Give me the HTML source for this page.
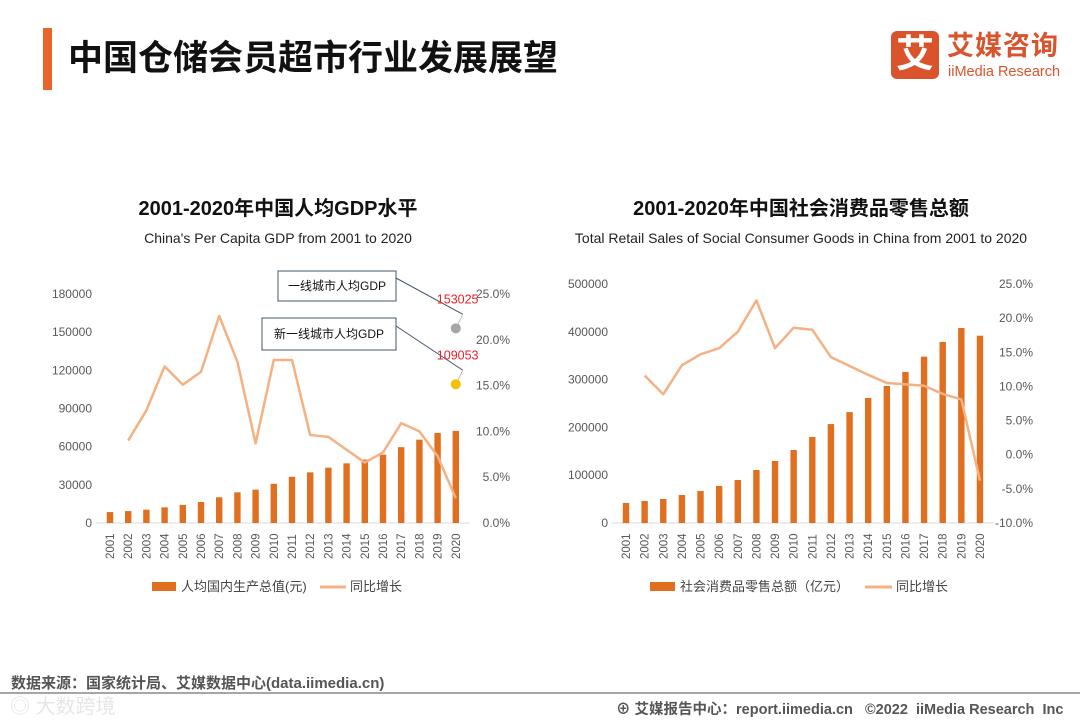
<!DOCTYPE html>
<html><head><meta charset="utf-8">
<style>
body{margin:0;width:1080px;height:720px;background:#fff;overflow:hidden;position:relative;font-family:"Liberation Sans","Noto Sans CJK SC",sans-serif}
.abs{position:absolute}
</style></head>
<body>
<div class="abs" style="left:43px;top:28px;width:9px;height:62px;background:#e8642b"></div>
<div class="abs" style="left:68px;top:30px;font-size:35px;font-weight:bold;color:#111;font-family:'Liberation Sans','Noto Sans CJK SC',sans-serif">中国仓储会员超市行业发展展望</div>
<div class="abs" style="left:891px;top:31px;width:48px;height:48px;background:#d9542c;border-radius:6px;color:#fff;font-size:38px;font-weight:bold;text-align:center;line-height:48px">艾</div>
<div class="abs" style="left:947px;top:30px;color:#d9542c;font-size:27px;font-weight:bold;line-height:32px;letter-spacing:1px">艾媒咨询</div>
<div class="abs" style="left:948px;top:63px;color:#d9542c;font-size:14.5px;line-height:18px">iiMedia Research</div>

<svg class="abs" style="left:0;top:0" width="1080" height="720" id="svg">
<g font-family="Liberation Sans, Noto Sans CJK SC, sans-serif">
<text x="278" y="215" text-anchor="middle" font-size="20" font-weight="bold" fill="#111">2001-2020年中国人均GDP水平</text>
<text x="278" y="243" text-anchor="middle" font-size="14" fill="#222">China's Per Capita GDP from 2001 to 2020</text>
<text x="801" y="215" text-anchor="middle" font-size="20" font-weight="bold" fill="#111">2001-2020年中国社会消费品零售总额</text>
<text x="801" y="243" text-anchor="middle" font-size="14" fill="#222">Total Retail Sales of Social Consumer Goods in China from 2001 to 2020</text>
</g>
<g id="left"></g><g id="right"></g>
<line x1="0" y1="693" x2="1080" y2="693" stroke="#888" stroke-width="1.5"/>
</svg>

<div class="abs" style="left:11px;top:672px;font-size:15px;font-weight:bold;color:#555">数据来源：国家统计局、艾媒数据中心(data.iimedia.cn)</div>
<div class="abs" style="left:10px;top:690px;font-size:20px;color:#e6e6e6">◎ 大数跨境</div>
<div class="abs" style="left:616px;top:698px;font-size:14.5px;font-weight:bold;color:#555">⊕ 艾媒报告中心：report.iimedia.cn &nbsp;&nbsp;©2022 &nbsp;iiMedia Research &nbsp;Inc</div>

<script>
const years=["2001","2002","2003","2004","2005","2006","2007","2008","2009","2010","2011","2012","2013","2014","2015","2016","2017","2018","2019","2020"];
const gdpValues=[8600,9400,10500,12300,14200,16500,20200,24100,26200,30800,36300,39800,43500,46900,49900,53700,59600,65500,70800,72400];
const gdpGrowth=[null,9.0,12.3,17.1,15.1,16.5,22.6,17.6,8.7,17.8,17.8,9.6,9.4,8.0,6.6,7.7,10.9,10.0,7.3,2.7];
const gdpLeftTicks=[0,30000,60000,90000,120000,150000,180000];
const gdpRightTicks=[0,5,10,15,20,25];
const cityLabels=["一线城市人均GDP","新一线城市人均GDP"];
const cityValues=[153025,109053];
const retailValues=[42000,46000,50200,58600,66900,77400,90000,110900,129700,152700,180000,207000,232000,261500,286600,316000,348000,378700,408000,391800];
const retailGrowth=[null,11.6,8.85,13.1,14.7,15.6,18.0,22.6,15.6,18.6,18.3,14.3,13.0,11.7,10.5,10.3,10.1,8.9,8.1,-3.8];
const retailLeftTicks=[0,100000,200000,300000,400000,500000];
const retailRightTicks=[-10,-5,0,5,10,15,20,25];

const NS="http://www.w3.org/2000/svg";
function mk(parent,tag,attrs,text){const e=document.createElementNS(NS,tag);for(const k in attrs)e.setAttribute(k,attrs[k]);if(text!==undefined)e.textContent=text;parent.appendChild(e);return e;}
const FONT="Liberation Sans, Noto Sans CJK SC, sans-serif";

function drawChart(g,o){
  const x=i=>o.x0+i*o.step;
  const yL=v=>o.yb-(v-o.lmin)/(o.lmax-o.lmin)*(o.yb-o.yt);
  const yR=v=>o.yb-(v-o.rmin)/(o.rmax-o.rmin)*(o.yb-o.yt);
  const ax=mk(g,'line',{x1:x(0)-14,x2:x(19)+14,y1:o.yb,y2:o.yb,stroke:'#d9d9d9'});
  
  o.lticks.forEach(t=>{const e=mk(g,'text',{x:o.lx,y:yL(t)+4,'text-anchor':'end','font-size':12,fill:'#595959','font-family':FONT},String(t));
    });
  o.rticks.forEach(t=>{const e=mk(g,'text',{x:o.rx,y:yR(t)+4,'text-anchor':'end','font-size':12,fill:'#595959','font-family':FONT},t.toFixed(1)+'%');
    });
  years.forEach((yr,i)=>{
    const b=mk(g,'rect',{x:x(i)-3.2,y:yL(o.vals[i]),width:6.4,height:o.yb-yL(o.vals[i]),fill:'#e07020'});
    
    const t=mk(g,'text',{transform:`translate(${x(i)+4},${o.yb+36}) rotate(-90)`,'font-size':11.5,fill:'#595959','font-family':FONT},yr);
    
  });
  let d='';o.growth.forEach((v,i)=>{if(v===null)return;d+=(d?'L':'M')+x(i)+','+yR(v);});
  const ln=mk(g,'path',{d:d,fill:'none',stroke:'#f4b183','stroke-width':2.5,'stroke-linejoin':'round'});
  
  return {x,yL,yR};
}

const L=document.getElementById('left');
const lf=drawChart(L,{x0:110,step:18.2,yb:523,yt:294,lmin:0,lmax:180000,rmin:0,rmax:25,vals:gdpValues,growth:gdpGrowth,lticks:gdpLeftTicks,rticks:gdpRightTicks,lx:92,rx:510});
const boxes=[{x:278,y:271,w:118,h:30},{x:262,y:318,w:134,h:32}];
const dotColors=['#a6a6a6','#f5c000'];
cityValues.forEach((v,i)=>{
  const px=lf.x(19),py=lf.yL(v);
  const bx=boxes[i];
  const r=mk(L,'rect',{x:bx.x,y:bx.y,width:bx.w,height:bx.h,fill:'#fff',stroke:'#44546a','stroke-width':1});
  
  const t=mk(L,'text',{x:bx.x+bx.w/2,y:bx.y+bx.h/2+4,'text-anchor':'middle','font-size':12,fill:'#111','font-family':FONT},cityLabels[i]);
  
  const c=mk(L,'line',{x1:bx.x+bx.w,y1:bx.y+bx.h/2-8,x2:px+7,y2:py-14,stroke:'#44546a','stroke-width':1});
  
  mk(L,'line',{x1:px+7,y1:py-14,x2:px,y2:py,stroke:'#bbb','stroke-width':1});
  const dot=mk(L,'circle',{cx:px,cy:py,r:5,fill:dotColors[i]});
  
  const vl=mk(L,'text',{x:px-19,y:py-25,'font-size':12.5,fill:'#e8202a','font-family':FONT},String(v));
  
});
(function(){
  const s=mk(L,'rect',{x:152,y:582,width:24,height:9,fill:'#e07020'});
  const t=mk(L,'text',{x:181,y:591,'font-size':13,fill:'#444','font-family':FONT},'人均国内生产总值(元)');
  const l=mk(L,'line',{x1:320,x2:346,y1:587,y2:587,stroke:'#f4b183','stroke-width':3});
  const t2=mk(L,'text',{x:350,y:591,'font-size':13,fill:'#444','font-family':FONT},'同比增长');
})();

const R=document.getElementById('right');
drawChart(R,{x0:626,step:18.63,yb:523,yt:284,lmin:0,lmax:500000,rmin:-10,rmax:25,vals:retailValues,growth:retailGrowth,lticks:retailLeftTicks,rticks:retailRightTicks,lx:608,rx:1033});
(function(){
  const s=mk(R,'rect',{x:650,y:582,width:25,height:9,fill:'#e07020'});
  const t=mk(R,'text',{x:680,y:591,'font-size':13,fill:'#444','font-family':FONT},'社会消费品零售总额（亿元）');
  const l=mk(R,'line',{x1:865,x2:892,y1:587,y2:587,stroke:'#f4b183','stroke-width':3});
  const t2=mk(R,'text',{x:896,y:591,'font-size':13,fill:'#444','font-family':FONT},'同比增长');
})();
</script>
</body></html>
